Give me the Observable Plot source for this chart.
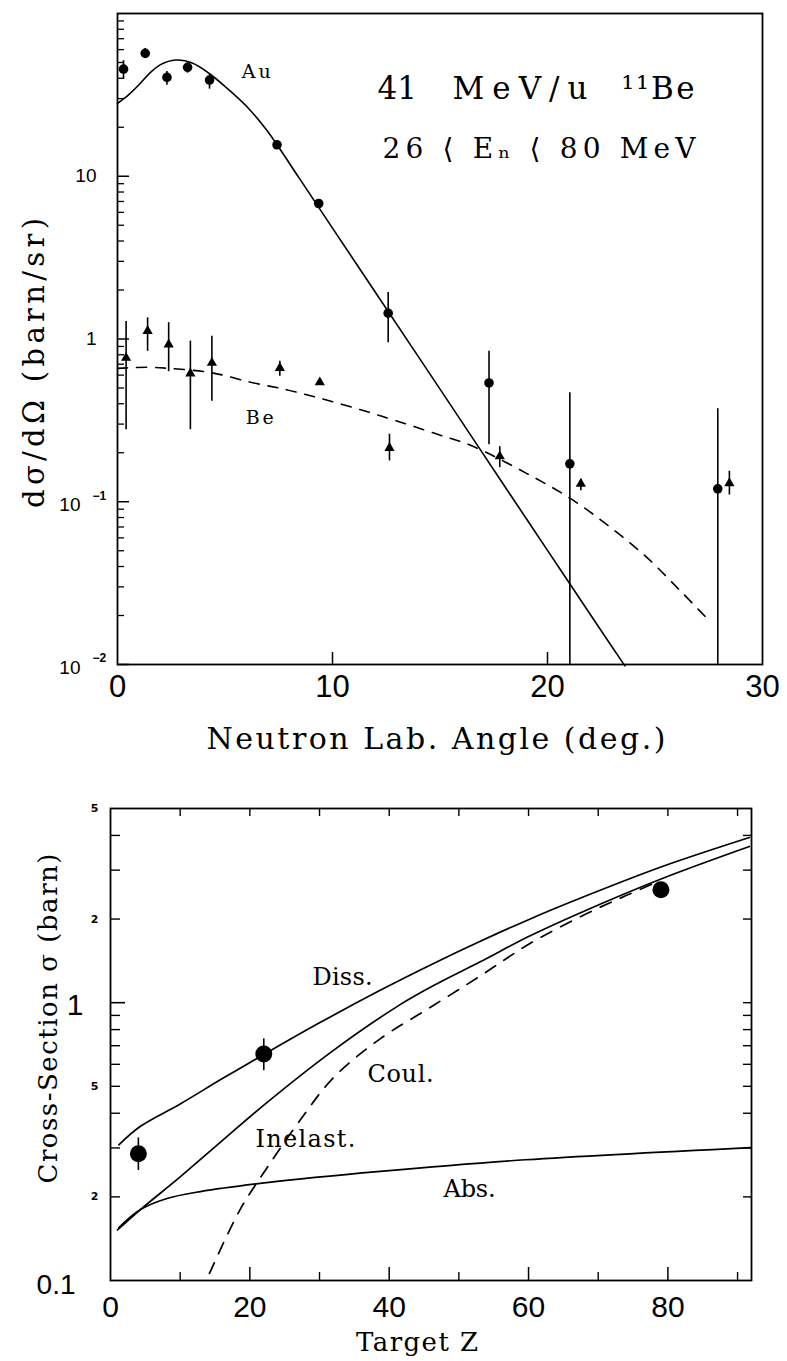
<!DOCTYPE html>
<html><head><meta charset="utf-8">
<script src="https://cdn.jsdelivr.net/npm/d3@7"></script>
<script src="https://cdn.jsdelivr.net/npm/@observablehq/plot@0.6"></script>
<style>
html,body{margin:0;padding:0;background:#fff;}
#chart svg{display:block;}
</style></head><body><div id="chart"></div>
<script>
// ---------- Top panel: angular distributions ----------
const auAngle = [0.28, 1.29, 2.30, 3.26, 4.28, 7.42, 9.36, 12.59, 17.28, 21.04, 27.92];
const auValue = [45.5, 56.9, 40.5, 46.7, 39.0, 15.6, 6.8, 1.44, 0.537, 0.171, 0.120];
const auLow   = [39.5, 53.0, 36.2, 43.0, 34.3, 14.8, 6.4, 0.95, 0.224, 0.01, 0.01];
const auHigh  = [51.3, 61.0, 44.0, 50.5, 42.5, 16.4, 7.2, 1.93, 0.84, 0.467, 0.373];

const beAngle = [0.40, 1.40, 2.38, 3.39, 4.39, 7.55, 9.41, 12.65, 17.78, 21.55, 28.46];
const beValue = [0.766, 1.12, 0.925, 0.614, 0.713, 0.664, 0.542, 0.214, 0.19, 0.129, 0.13];
const beLow   = [0.277, 0.84, 0.63, 0.277, 0.414, 0.59, 0.52, 0.178, 0.162, 0.117, 0.11];
const beHigh  = [1.28, 1.35, 1.26, 0.97, 1.04, 0.73, 0.56, 0.26, 0.218, 0.137, 0.154];

const auCurveAngle = [0, 0.5, 1, 1.5, 2, 2.7, 3.5, 4.3, 5, 6, 6.9, 7.42, 8.43, 10, 12, 14, 16, 18, 20, 22, 23.6];
const auCurveValue = [28, 31.5, 36.5, 43, 48.5, 51.8, 49.5, 42.5, 35.6, 26.9, 19.5, 15.6, 9.84, 4.8, 1.93, 0.776, 0.312, 0.125, 0.0503, 0.0202, 0.0098];

const beCurveAngle = [0, 1.44, 2.38, 4.39, 6.25, 7.8, 9.2, 10.76, 12.3, 14.95, 16.5, 19, 21.15, 22.87, 24.58, 26.13, 27.45];
const beCurveValue = [0.66, 0.67, 0.66, 0.62, 0.54, 0.49, 0.44, 0.386, 0.335, 0.258, 0.22, 0.15, 0.103, 0.0705, 0.046, 0.0288, 0.019];

const topXTicks = [0, 10, 20, 30];
const topYPlainTicks = [1, 10];
const topYPowTicks = [0.01, 0.1];
const topYPowExp = ["\u22122", "\u22121"];

// ---------- Bottom panel: cross-sections vs target Z ----------
const ptZ  = [4, 22, 79];
const ptV  = [0.286, 0.653, 2.55];
const ptLo = [0.249, 0.569, 2.47];
const ptHi = [0.326, 0.741, 2.63];

const dissZ = [1.2, 4.3, 10, 16, 22.1, 30, 38.7, 46, 53, 60, 67.3, 79.2, 91.7];
const dissV = [0.308, 0.359, 0.432, 0.532, 0.653, 0.846, 1.108, 1.37, 1.66, 1.99, 2.37, 3.09, 3.93];
const inelZ = [1, 4.3, 10, 16, 22.4, 31.9, 41.4, 47, 53, 60, 67.3, 79.2, 91.7];
const inelV = [0.152, 0.18, 0.236, 0.318, 0.436, 0.671, 0.978, 1.175, 1.40, 1.73, 2.10, 2.80, 3.65];
const coulZ = [14.2, 18.6, 22.4, 27.1, 32, 38.7, 45.7, 53, 60.2, 68.3, 74, 78];
const coulV = [0.106, 0.18, 0.253, 0.374, 0.537, 0.741, 0.955, 1.245, 1.633, 2.09, 2.43, 2.69];
const absZ  = [1.2, 4.3, 8, 12.9, 22.4, 38.7, 59.6, 91.9];
const absV  = [0.155, 0.18, 0.197, 0.209, 0.225, 0.247, 0.272, 0.301];

const botXTicks = [0, 20, 40, 60, 80];
const botYSmallTicks = [0.2, 0.5, 2, 5];

// ---------- helpers ----------
const serif = "'DejaVu Serif', 'Liberation Serif', serif";
const sans = "'Liberation Sans', Arial, sans-serif";
const W = 787, topH = 780, botH = 581;

const zipXY = (xs, ys) => xs.map((x, i) => ({x, y: ys[i]}));
const zipErr = (xs, ys, lo, hi) => xs.map((x, i) => ({x, y: ys[i], lo: lo[i], hi: hi[i]}));

const auPts = zipErr(auAngle, auValue, auLow, auHigh);
const bePts = zipErr(beAngle, beValue, beLow, beHigh);
const auCurve = zipXY(auCurveAngle, auCurveValue);
const beCurve = zipXY(beCurveAngle, beCurveValue);

function logMinor(decades) {
  const out = [];
  for (const d of decades) for (let k = 2; k <= 9; k++) out.push(+(d * k).toPrecision(3));
  return out;
}

// ---------- top plot ----------
const tm = {top: 13, right: 25, bottom: 116, left: 117};
const tFW = W - tm.left - tm.right, tFH = topH - tm.top - tm.bottom;
const topMinor = logMinor([0.01, 0.1, 1, 10]);

const topPlot = Plot.plot({
  width: W, height: topH,
  marginTop: tm.top, marginRight: tm.right, marginBottom: tm.bottom, marginLeft: tm.left,
  style: {background: "white", color: "black", fontFamily: sans, overflow: "visible"},
  x: {domain: [0, 30], axis: null},
  y: {type: "log", domain: [0.01, 100], axis: null},
  marks: [
    Plot.tickY(topMinor, {y: d => d, insetRight: tFW - 7, strokeWidth: 1.3}),
    Plot.tickY([0.01, 0.1, 1, 10], {y: d => d, insetRight: tFW - 12, strokeWidth: 1.5}),
    Plot.tickX([10, 20], {x: d => d, insetTop: tFH - 12, strokeWidth: 1.5}),
    Plot.frame({stroke: "black", strokeWidth: 1.8}),
    // curves
    Plot.line(auCurve, {x: "x", y: "y", curve: "catmull-rom", stroke: "black", strokeWidth: 1.6}),
    Plot.line(beCurve, {x: "x", y: "y", curve: "catmull-rom", stroke: "black", strokeWidth: 1.6, strokeDasharray: "10,9"}),
    // error bars
    Plot.ruleX(auPts, {x: "x", y1: "lo", y2: "hi", stroke: "black", strokeWidth: 1.6}),
    Plot.ruleX(bePts, {x: "x", y1: "lo", y2: "hi", stroke: "black", strokeWidth: 1.6}),
    // points
    Plot.dot(auPts, {x: "x", y: "y", r: 4.8, fill: "black", stroke: null}),
    Plot.dot(bePts, {x: "x", y: "y", r: 3.8, symbol: "triangle", fill: "black", stroke: null}),
    // tick labels
    Plot.text(topXTicks, {x: d => d, text: d => String(d), frameAnchor: "bottom", dy: 23, lineAnchor: "middle", fontSize: 31, fontFamily: sans}),
    Plot.text(topYPlainTicks, {y: d => d, text: d => String(d), frameAnchor: "left", textAnchor: "end", dx: -21, lineAnchor: "middle", fontSize: 19, fontFamily: sans}),
    Plot.text(topYPowTicks, {y: d => d, text: d => "10", frameAnchor: "left", textAnchor: "end", dx: -37, dy: 3, lineAnchor: "middle", fontSize: 19, fontFamily: sans}),
    Plot.text(topYPowTicks, {y: d => d, text: (d, i) => topYPowExp[i], frameAnchor: "left", textAnchor: "start", dx: -25, dy: -6, lineAnchor: "middle", fontSize: 12, fontWeight: "bold", fontFamily: sans}),
    // axis titles
    Plot.text(["Neutron Lab. Angle (deg.)"], {frameAnchor: "bottom", textAnchor: "middle", dx: -4, dy: 84, lineAnchor: "bottom", fontSize: 30, fontFamily: serif}),
    Plot.text(["d\u03c3/d\u03a9 (barn/sr)"], {frameAnchor: "left", textAnchor: "middle", rotate: -90, dx: -74, dy: 24, lineAnchor: "bottom", fontSize: 29, fontFamily: serif}),
    // annotations
    Plot.text(["41"], {frameAnchor: "top-left", dx: 260, dy: 85, lineAnchor: "bottom", textAnchor: "start", fontSize: 31, fontFamily: serif}),
    Plot.text(["MeV/u"], {frameAnchor: "top-left", dx: 335, dy: 85, lineAnchor: "bottom", textAnchor: "start", fontSize: 31, fontFamily: serif}),
    Plot.text(["\u00b9\u00b9Be"], {frameAnchor: "top-left", dx: 504, dy: 85, lineAnchor: "bottom", textAnchor: "start", fontSize: 31, fontFamily: serif}),
    Plot.text(["26 \u27e8 E\u2099 \u27e8 80 MeV"], {frameAnchor: "top-left", dx: 265, dy: 144, lineAnchor: "bottom", textAnchor: "start", fontSize: 28, fontFamily: serif}),
    Plot.text(["Au"], {x: 5.78, y: 40, textAnchor: "start", lineAnchor: "bottom", fontSize: 19, fontFamily: serif}),
    Plot.text(["Be"], {x: 5.96, y: 0.302, textAnchor: "start", lineAnchor: "bottom", fontSize: 19, fontFamily: serif})
  ]
});

// ---------- bottom plot ----------
const bm = {top: 28, right: 36, bottom: 81, left: 110};
const bFW = W - bm.left - bm.right, bFH = botH - bm.top - bm.bottom;
const botLeftMinor = [0.2, 0.3, 0.4, 0.5, 0.6, 0.7, 0.8, 0.9, 2, 3, 4];
const botRight = [0.2, 0.3, 0.4, 0.5, 0.6, 0.7, 0.8, 0.9, 1, 2, 3, 4];
const botPts = zipErr(ptZ, ptV, ptLo, ptHi);

const botPlot = Plot.plot({
  width: W, height: botH,
  marginTop: bm.top, marginRight: bm.right, marginBottom: bm.bottom, marginLeft: bm.left,
  style: {background: "white", color: "black", fontFamily: sans, overflow: "visible"},
  x: {domain: [0, 92], axis: null},
  y: {type: "log", domain: [0.1, 5], axis: null},
  marks: [
    Plot.tickY(botLeftMinor, {y: d => d, insetRight: bFW - 10, strokeWidth: 1.4}),
    Plot.tickY([1], {y: d => d, insetRight: bFW - 15, strokeWidth: 1.6}),
    Plot.tickY(botRight, {y: d => d, insetLeft: bFW - 8, strokeWidth: 1.4}),
    Plot.tickX([10, 20, 30, 40, 50, 60, 70, 80, 90], {x: d => d, insetBottom: bFH - 8, strokeWidth: 1.4}),
    Plot.tickX([20, 40, 60, 80], {x: d => d, insetTop: bFH - 13, strokeWidth: 1.5}),
    Plot.tickX([10, 30, 50, 70, 90], {x: d => d, insetTop: bFH - 8, strokeWidth: 1.4}),
    Plot.frame({stroke: "black", strokeWidth: 1.8}),
    Plot.line(zipXY(dissZ, dissV), {x: "x", y: "y", curve: "catmull-rom", stroke: "black", strokeWidth: 1.7}),
    Plot.line(zipXY(inelZ, inelV), {x: "x", y: "y", curve: "catmull-rom", stroke: "black", strokeWidth: 1.7}),
    Plot.line(zipXY(absZ, absV), {x: "x", y: "y", curve: "catmull-rom", stroke: "black", strokeWidth: 1.7}),
    Plot.line(zipXY(coulZ, coulV), {x: "x", y: "y", curve: "catmull-rom", stroke: "black", strokeWidth: 1.7, strokeDasharray: "12,10"}),
    Plot.ruleX(botPts, {x: "x", y1: "lo", y2: "hi", stroke: "black", strokeWidth: 1.6}),
    Plot.dot(botPts, {x: "x", y: "y", r: 8.5, fill: "black", stroke: null}),
    // tick labels
    Plot.text(botXTicks, {x: d => d, text: d => String(d), frameAnchor: "bottom", dy: 27, lineAnchor: "middle", fontSize: 30, fontFamily: sans}),
    Plot.text([1], {y: d => d, text: d => "1", frameAnchor: "left", textAnchor: "end", dx: -27, dy: 3, lineAnchor: "middle", fontSize: 30, fontFamily: sans}),
    Plot.text([0.1], {y: d => d, text: d => "0.1", frameAnchor: "left", textAnchor: "end", dx: -35, dy: 5, lineAnchor: "middle", fontSize: 28, fontFamily: sans}),
    Plot.text(botYSmallTicks, {y: d => d, text: d => String(d).replace("0.", ""), frameAnchor: "left", textAnchor: "end", dx: -12, lineAnchor: "middle", fontSize: 11, fontWeight: "bold", fontFamily: "'DejaVu Sans', sans-serif"}),
    // axis titles
    Plot.text(["Target Z"], {frameAnchor: "bottom", textAnchor: "middle", dx: -14, dy: 70, lineAnchor: "bottom", fontSize: 26, fontFamily: serif}),
    Plot.text(["Cross-Section \u03c3 (barn)"], {frameAnchor: "left", textAnchor: "middle", rotate: -90, dx: -54, dy: -26, lineAnchor: "bottom", fontSize: 26, fontFamily: serif}),
    // curve labels
    Plot.text(["Diss."], {x: 29.0, y: 1.16, textAnchor: "start", lineAnchor: "bottom", fontSize: 24, fontFamily: serif}),
    Plot.text(["Coul."], {x: 36.9, y: 0.517, textAnchor: "start", lineAnchor: "bottom", fontSize: 24, fontFamily: serif}),
    Plot.text(["Inelast."], {x: 20.8, y: 0.303, textAnchor: "start", lineAnchor: "bottom", fontSize: 24, fontFamily: serif}),
    Plot.text(["Abs."], {x: 47.8, y: 0.2, textAnchor: "start", lineAnchor: "bottom", fontSize: 24, fontFamily: serif})
  ]
});

// stretch serif labels to the typewriter widths of the original
const textLengths = new Map([
  ["Neutron Lab. Angle (deg.)", 459],
  ["d\u03c3/d\u03a9 (barn/sr)", 290],
  ["MeV/u", 135],
  ["\u00b9\u00b9Be", 73],
  ["26 \u27e8 E\u2099 \u27e8 80 MeV", 313],
  ["Au", 29], ["Be", 28],
  ["Cross-Section \u03c3 (barn)", 330],
  ["Target Z", 122],
  ["Diss.", 60], ["Coul.", 66], ["Inelast.", 100], ["Abs.", 52]
]);
for (const svg of [topPlot, botPlot]) {
  svg.querySelectorAll("text").forEach(t => {
    const L = textLengths.get(t.textContent);
    if (L) { t.setAttribute("textLength", L); t.setAttribute("lengthAdjust", "spacing"); }
  });
}

const host = document.getElementById("chart");
host.appendChild(topPlot);
host.appendChild(botPlot);
</script>
</body></html>
